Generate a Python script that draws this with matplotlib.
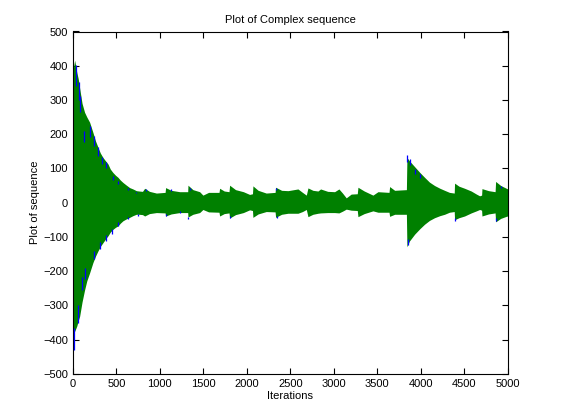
import numpy as np
import matplotlib
matplotlib.use("Agg")
import matplotlib.pyplot as plt

plt.rcParams['font.family'] = ['Liberation Sans', 'DejaVu Sans']
plt.rcParams['font.size'] = 8

# envelope of the green (imag) trace
env_iter = [0, 20, 45, 61, 77, 105, 134, 160, 192, 230, 260, 288, 315, 345, 375, 403, 430, 460,
            490, 518, 545, 575, 610, 652, 690, 729, 760,
            800, 825, 880, 960, 1060, 1066, 1130, 1227, 1320, 1323, 1380, 1457, 1495, 1560,
            1680, 1687, 1740, 1795, 1802, 1870, 1960, 2032, 2065, 2070, 2130, 2223, 2325,
            2331, 2400, 2473, 2588, 2640, 2684, 2703, 2760, 2818, 2848, 2930, 3009, 3059,
            3100, 3143, 3200, 3270, 3278, 3350, 3450, 3508, 3635, 3642, 3700, 3835,
            3841, 3870, 3930, 3990, 4044, 4100, 4159, 4220, 4274, 4330, 4385, 4389, 4440,
            4504, 4580, 4640, 4677, 4700, 4704, 4780, 4855, 4861, 4920, 4984, 5000]
env_upper = [385, 416, 380, 362, 335, 290, 264, 250, 235, 205, 180, 162, 145, 132, 122, 113, 98, 88,
             80, 74, 66, 59, 52, 44, 40, 35, 34,
             33, 42, 33, 28, 30, 44, 36, 32, 32, 51, 38, 32, 22, 30,
             30, 42, 34, 32, 51, 38, 32, 24, 26, 49, 36, 28, 30,
             45, 36, 35, 40, 30, 22, 43, 36, 34, 40, 33, 32, 40,
             28, 14, 25, 26, 45, 34, 22, 32, 30, 47, 36, 38,
             132, 122, 105, 88, 74, 60, 50, 42, 36, 30, 28, 57, 48,
             42, 34, 25, 20, 22, 41, 35, 32, 62, 50, 42, 40]
env_lower = [-371, -376, -360, -345, -332, -290, -255, -228, -205, -175, -156, -141, -128, -117, -106, -97, -86, -78,
             -72, -68, -60, -53, -48, -43, -38, -34, -34,
             -35, -39, -32, -29, -30, -39, -33, -29, -29, -42, -34, -29, -20, -27,
             -28, -39, -32, -30, -45, -35, -29, -21, -23, -43, -33, -26, -27,
             -43, -34, -31, -31, -26, -20, -41, -34, -31, -30, -29, -29, -30,
             -25, -19, -22, -23, -41, -32, -24, -28, -28, -40, -34, -34,
             -129, -112, -92, -76, -63, -52, -44, -38, -34, -28, -26, -50, -44,
             -39, -30, -24, -20, -22, -39, -33, -30, -56, -46, -40, -39]

# blue (real) spikes that show at the edges of the green band
blue_iter = [8, 31, 56, 70, 84, 102, 126, 140, 200, 238, 238, 288, 307, 334, 376, 384,
             453, 460, 518, 518, 633, 633, 729, 748, 844, 1074, 1131, 1227, 1323, 1350,
             1802, 2338, 2345, 3841, 3852, 3879, 3937, 3987, 4389, 4869, 4927]
blue_val = [-430, 401, -351, 352, 313, -254, 210, -224, 225, 196, -166, 162, -136, 132, 118, -112,
            -92, 79, 64, -68, 42, -48, 32, -39, 40, -39, 40, -29, -48, 44,
            -46, 42, -45, 139, -125, 128, 98, 84, -53, -53, 49]

fig = plt.figure(figsize=(5.61, 4.2), dpi=100)
ax = fig.add_axes([0.13, 0.11, 0.775, 0.815])

ax.fill_between(env_iter, env_lower, env_upper, color=(0, 0.5, 0), linewidth=0, zorder=2)
# short blue strokes at the band edge, like the real part peeking out
ax.vlines(blue_iter, np.array(blue_val) * 0.85, blue_val, color=(0, 0, 1),
          linewidth=0.9, zorder=3)

ax.set_xlim(0, 5000)
ax.set_ylim(-500, 500)
ax.set_xticks(np.arange(0, 5001, 500))
ax.set_yticks(np.arange(-500, 501, 100))
ax.tick_params(direction='in', top=True, right=True, length=4, width=0.8)
for s in ax.spines.values():
    s.set_linewidth(0.8)

ax.set_title("Plot of Complex sequence", fontsize=8)
ax.set_xlabel("Iterations", fontsize=8, labelpad=2)
ax.set_ylabel("Plot of sequence", fontsize=8, labelpad=2)

fig.savefig("out.png", dpi=100)
